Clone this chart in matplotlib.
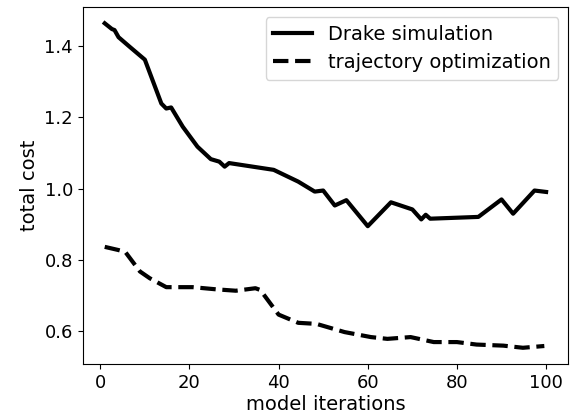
import numpy as np
import matplotlib.pyplot as plt

# Drake simulation cost
sim_iter = [1, 2.6, 3.2, 4.1, 6.7, 10, 13.7, 14.8, 15.9, 18.5, 21.8, 24.8, 26.7, 27.9, 28.9,
            38.9, 44.4, 48.1, 50, 52.6, 55.2, 60, 65.2, 70, 72, 73, 74, 84.8, 90, 92.6, 97.4, 100]
sim_cost = [1.464, 1.448, 1.445, 1.425, 1.397, 1.362, 1.239, 1.225, 1.228, 1.174, 1.118, 1.083,
            1.076, 1.062, 1.072, 1.053, 1.020, 0.992, 0.995, 0.953, 0.968, 0.895, 0.962, 0.942,
            0.914, 0.927, 0.916, 0.921, 0.970, 0.930, 0.995, 0.991]

# trajectory optimization cost
opt_iter = [1, 4.1, 5.6, 8.9, 11.1, 14.8, 20.7, 25.9, 30.4, 34.8, 35.9, 40, 44.4, 48.5,
            54.8, 60.7, 64.4, 69.6, 74.8, 80, 84.4, 90.4, 94.8, 99.6]
opt_cost = [0.837, 0.828, 0.823, 0.768, 0.749, 0.724, 0.724, 0.718, 0.714, 0.721, 0.716,
            0.647, 0.624, 0.621, 0.598, 0.584, 0.579, 0.584, 0.570, 0.570, 0.563, 0.560,
            0.554, 0.559]

fig = plt.figure(figsize=(5.78, 4.16), dpi=100)
ax = fig.add_subplot(111)
ax.plot(sim_iter, sim_cost, 'k-', lw=3, label='Drake simulation')
ax.plot(opt_iter, opt_cost, 'k--', lw=3, label='trajectory optimization')
ax.set_xlabel('model iterations', fontsize=14, labelpad=2)
ax.set_ylabel('total cost', fontsize=14)
ax.tick_params(labelsize=13)
ax.set_yticks([0.6, 0.8, 1.0, 1.2, 1.4])
ax.legend(loc='upper right', fontsize=14)
fig.subplots_adjust(left=0.143, right=0.983, bottom=0.125, top=0.983)
fig.savefig('out.png')
